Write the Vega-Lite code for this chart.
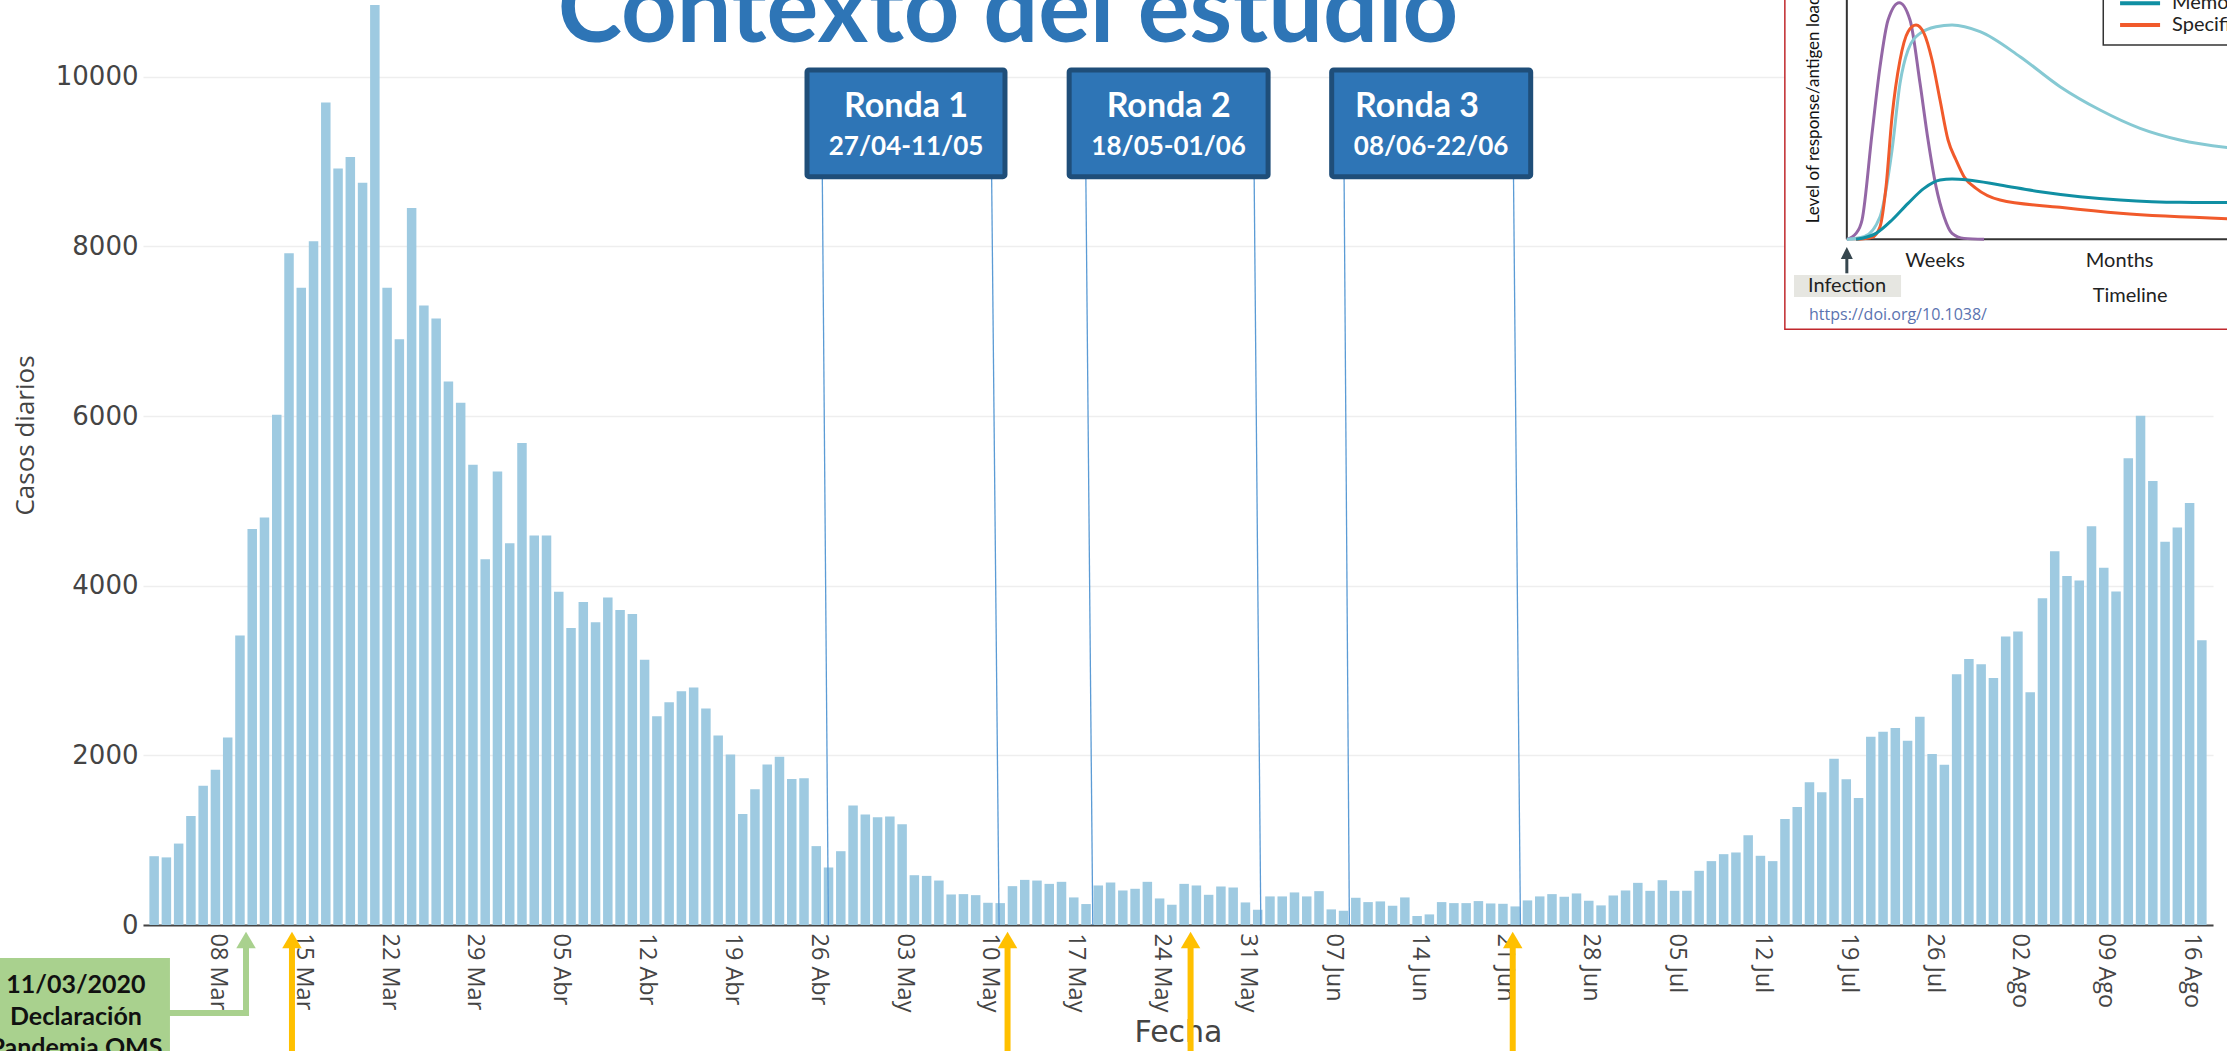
{
"$schema": "https://vega.github.io/schema/vega-lite/v6.json",
"width": 2070, "height": 925, "autosize": "none",
"padding": {"left": 143, "top": 0, "right": 14, "bottom": 126},
"background": "white",
"config": {"view": {"stroke": null}},
"datasets": {
"casos": [
{"d":"2020-03-03","c":811},{"d":"2020-03-04","c":797},{"d":"2020-03-05","c":960},{"d":"2020-03-06","c":1284},{"d":"2020-03-07","c":1642},{"d":"2020-03-08","c":1831},{"d":"2020-03-09","c":2210},{"d":"2020-03-10","c":3412},{"d":"2020-03-11","c":4669},{"d":"2020-03-12","c":4804},{"d":"2020-03-13","c":6014},{"d":"2020-03-14","c":7919},{"d":"2020-03-15","c":7513},{"d":"2020-03-16","c":8061},{"d":"2020-03-17","c":9696},{"d":"2020-03-18","c":8919},{"d":"2020-03-19","c":9054},{"d":"2020-03-20","c":8750},{"d":"2020-03-21","c":10845},{"d":"2020-03-22","c":7513},{"d":"2020-03-23","c":6906},{"d":"2020-03-24","c":8453},{"d":"2020-03-25","c":7304},{"d":"2020-03-26","c":7149},{"d":"2020-03-27","c":6406},{"d":"2020-03-28","c":6156},{"d":"2020-03-29","c":5426},{"d":"2020-03-30","c":4311},{"d":"2020-03-31","c":5345},
{"d":"2020-04-01","c":4500},{"d":"2020-04-02","c":5683},{"d":"2020-04-03","c":4591},{"d":"2020-04-04","c":4591},{"d":"2020-04-05","c":3930},{"d":"2020-04-06","c":3500},{"d":"2020-04-07","c":3809},{"d":"2020-04-08","c":3570},{"d":"2020-04-09","c":3861},{"d":"2020-04-10","c":3713},{"d":"2020-04-11","c":3665},{"d":"2020-04-12","c":3126},{"d":"2020-04-13","c":2461},{"d":"2020-04-14","c":2626},{"d":"2020-04-15","c":2757},{"d":"2020-04-16","c":2800},{"d":"2020-04-17","c":2552},{"d":"2020-04-18","c":2235},{"d":"2020-04-19","c":2009},{"d":"2020-04-20","c":1309},{"d":"2020-04-21","c":1600},{"d":"2020-04-22","c":1891},{"d":"2020-04-23","c":1983},{"d":"2020-04-24","c":1722},{"d":"2020-04-25","c":1730},{"d":"2020-04-26","c":930},{"d":"2020-04-27","c":678},{"d":"2020-04-28","c":870},{"d":"2020-04-29","c":1409},{"d":"2020-04-30","c":1304},
{"d":"2020-05-01","c":1270},{"d":"2020-05-02","c":1278},{"d":"2020-05-03","c":1187},{"d":"2020-05-04","c":587},{"d":"2020-05-05","c":579},{"d":"2020-05-06","c":524},{"d":"2020-05-07","c":360},{"d":"2020-05-08","c":364},{"d":"2020-05-09","c":352},{"d":"2020-05-10","c":262},{"d":"2020-05-11","c":258},{"d":"2020-05-12","c":458},{"d":"2020-05-13","c":532},{"d":"2020-05-14","c":524},{"d":"2020-05-15","c":485},{"d":"2020-05-16","c":509},{"d":"2020-05-17","c":325},{"d":"2020-05-18","c":247},{"d":"2020-05-19","c":466},{"d":"2020-05-20","c":501},{"d":"2020-05-21","c":407},{"d":"2020-05-22","c":427},{"d":"2020-05-23","c":509},{"d":"2020-05-24","c":313},{"d":"2020-05-25","c":239},{"d":"2020-05-26","c":485},{"d":"2020-05-27","c":466},{"d":"2020-05-28","c":356},{"d":"2020-05-29","c":454},{"d":"2020-05-30","c":442},{"d":"2020-05-31","c":266},
{"d":"2020-06-01","c":180},{"d":"2020-06-02","c":337},{"d":"2020-06-03","c":337},{"d":"2020-06-04","c":384},{"d":"2020-06-05","c":337},{"d":"2020-06-06","c":399},{"d":"2020-06-07","c":184},{"d":"2020-06-08","c":168},{"d":"2020-06-09","c":321},{"d":"2020-06-10","c":270},{"d":"2020-06-11","c":278},{"d":"2020-06-12","c":227},{"d":"2020-06-13","c":325},{"d":"2020-06-14","c":106},{"d":"2020-06-15","c":125},{"d":"2020-06-16","c":270},{"d":"2020-06-17","c":258},{"d":"2020-06-18","c":258},{"d":"2020-06-19","c":282},{"d":"2020-06-20","c":254},{"d":"2020-06-21","c":250},{"d":"2020-06-22","c":219},{"d":"2020-06-23","c":290},{"d":"2020-06-24","c":337},{"d":"2020-06-25","c":364},{"d":"2020-06-26","c":333},{"d":"2020-06-27","c":372},{"d":"2020-06-28","c":286},{"d":"2020-06-29","c":231},{"d":"2020-06-30","c":348},
{"d":"2020-07-01","c":407},{"d":"2020-07-02","c":497},{"d":"2020-07-03","c":403},{"d":"2020-07-04","c":528},{"d":"2020-07-05","c":403},{"d":"2020-07-06","c":404},{"d":"2020-07-07","c":639},{"d":"2020-07-08","c":753},{"d":"2020-07-09","c":835},{"d":"2020-07-10","c":855},{"d":"2020-07-11","c":1059},{"d":"2020-07-12","c":816},{"d":"2020-07-13","c":753},{"d":"2020-07-14","c":1251},{"d":"2020-07-15","c":1392},{"d":"2020-07-16","c":1683},{"d":"2020-07-17","c":1565},{"d":"2020-07-18","c":1961},{"d":"2020-07-19","c":1718},{"d":"2020-07-20","c":1498},{"d":"2020-07-21","c":2220},{"d":"2020-07-22","c":2279},{"d":"2020-07-23","c":2322},{"d":"2020-07-24","c":2173},{"d":"2020-07-25","c":2455},{"d":"2020-07-26","c":2016},{"d":"2020-07-27","c":1890},{"d":"2020-07-28","c":2955},{"d":"2020-07-29","c":3135},{"d":"2020-07-30","c":3074},{"d":"2020-07-31","c":2913},
{"d":"2020-08-01","c":3400},{"d":"2020-08-02","c":3461},{"d":"2020-08-03","c":2744},{"d":"2020-08-04","c":3852},{"d":"2020-08-05","c":4405},{"d":"2020-08-06","c":4113},{"d":"2020-08-07","c":4061},{"d":"2020-08-08","c":4700},{"d":"2020-08-09","c":4213},{"d":"2020-08-10","c":3931},{"d":"2020-08-11","c":5504},{"d":"2020-08-12","c":6004},{"d":"2020-08-13","c":5235},{"d":"2020-08-14","c":4518},{"d":"2020-08-15","c":4687},{"d":"2020-08-16","c":4974},{"d":"2020-08-17","c":3357}
],
"rondas": [
{"x0":"2020-04-25T09:22:00Z","x1":"2020-05-11T11:00:00Z","xc":"2020-05-03T10:20:00Z","xt":"2020-05-03T10:20:00Z","titulo":"Ronda 1","fechas":"27/04-11/05"},
{"x0":"2020-05-16T16:00:00Z","x1":"2020-06-01T19:30:00Z","xc":"2020-05-24T17:45:00Z","xt":"2020-05-24T17:45:00Z","titulo":"Ronda 2","fechas":"18/05-01/06"},
{"x0":"2020-06-06T23:20:00Z","x1":"2020-06-23T03:00:00Z","xc":"2020-06-15T01:00:00Z","xt":"2020-06-13T21:40:00Z","titulo":"Ronda 3","fechas":"08/06-22/06"}
],
"lineas": [
{"xa":"2020-04-26T15:10:00Z","xb":"2020-04-27T03:00:00Z"},
{"xa":"2020-05-10T09:00:00Z","xb":"2020-05-10T23:30:00Z"},
{"xa":"2020-05-18T00:30:00Z","xb":"2020-05-18T14:00:00Z"},
{"xa":"2020-05-31T16:20:00Z","xb":"2020-06-01T05:20:00Z"},
{"xa":"2020-06-07T23:30:00Z","xb":"2020-06-08T09:50:00Z"},
{"xa":"2020-06-21T17:30:00Z","xb":"2020-06-22T07:00:00Z"}
],
"flechas": [{"x":"2020-03-14T14:10:00Z"},{"x":"2020-05-11T16:00:00Z"},{"x":"2020-05-26T12:30:00Z"},{"x":"2020-06-21T16:00:00Z"}],
"oms": [{"x0":"2020-02-10T00:00:00Z","x1":"2020-03-04T16:30:00Z","xc":"2020-02-26T01:20:00Z","xf":"2020-03-10T20:40:00Z","texto":"11/03/2020\nDeclaración\nPandemia OMS"}],
"titulo": [{"x":"2020-05-11T17:00:00Z","texto":"Contexto del estudio"}],
"uno": [{}],
"curvas": [
{"s":"Antigen","t":0,"v":0},{"s":"Antigen","t":0.242,"v":2.49},{"s":"Antigen","t":0.40,"v":8.07},{"s":"Antigen","t":0.663,"v":44.28},{"s":"Antigen","t":0.873,"v":72.15},{"s":"Antigen","t":1.084,"v":91.64},{"s":"Antigen","t":1.378,"v":98.89},{"s":"Antigen","t":1.662,"v":91.64},{"s":"Antigen","t":1.925,"v":65.18},{"s":"Antigen","t":2.136,"v":41.5},{"s":"Antigen","t":2.346,"v":22.0},{"s":"Antigen","t":2.557,"v":9.46},{"s":"Antigen","t":2.767,"v":2.49},{"s":"Antigen","t":3.083,"v":0.4},{"s":"Antigen","t":3.609,"v":0},
{"s":"Effector","t":0,"v":0},{"s":"Effector","t":0.452,"v":1.1},{"s":"Effector","t":0.873,"v":9.46},{"s":"Effector","t":1.189,"v":37.32},{"s":"Effector","t":1.399,"v":65.18},{"s":"Effector","t":1.61,"v":79.11},{"s":"Effector","t":1.925,"v":86.07},{"s":"Effector","t":2.346,"v":88.86},{"s":"Effector","t":2.767,"v":89.56},{"s":"Effector","t":3.504,"v":86.77},{"s":"Effector","t":4.556,"v":76.32},{"s":"Effector","t":5.608,"v":63.78},{"s":"Effector","t":6.66,"v":54.03},{"s":"Effector","t":7.712,"v":46.37},{"s":"Effector","t":8.759,"v":41.5},{"s":"Effector","t":10.3,"v":37.8},
{"s":"Specific","t":0.242,"v":0},{"s":"Specific","t":0.663,"v":0.82},{"s":"Specific","t":0.873,"v":5.28},{"s":"Specific","t":1.031,"v":22.0},{"s":"Specific","t":1.189,"v":51.25},{"s":"Specific","t":1.399,"v":74.93},{"s":"Specific","t":1.61,"v":86.77},{"s":"Specific","t":1.82,"v":89.56},{"s":"Specific","t":2.03,"v":86.07},{"s":"Specific","t":2.241,"v":74.93},{"s":"Specific","t":2.451,"v":58.21},{"s":"Specific","t":2.662,"v":41.5},{"s":"Specific","t":2.872,"v":33.14},{"s":"Specific","t":3.083,"v":26.17},{"s":"Specific","t":3.398,"v":21.3},{"s":"Specific","t":4.03,"v":16.42},{"s":"Specific","t":5.608,"v":13.36},{"s":"Specific","t":7.186,"v":10.85},{"s":"Specific","t":10.3,"v":8.5},
{"s":"Memory","t":0.242,"v":0},{"s":"Memory","t":0.768,"v":2.49},{"s":"Memory","t":1.189,"v":8.07},{"s":"Memory","t":1.61,"v":15.03},{"s":"Memory","t":2.03,"v":21.3},{"s":"Memory","t":2.451,"v":24.78},{"s":"Memory","t":2.767,"v":25.2},{"s":"Memory","t":3.188,"v":24.78},{"s":"Memory","t":4.03,"v":22.69},{"s":"Memory","t":5.082,"v":19.9},{"s":"Memory","t":6.134,"v":17.82},{"s":"Memory","t":7.186,"v":16.42},{"s":"Memory","t":8.759,"v":15.45},{"s":"Memory","t":10.3,"v":15.4}
],
"leyenda": [
{"s":"Memory","t0":7.186,"t1":8.238,"tt":8.553,"v":98.61,"texto":"Memory cells"},
{"s":"Specific","t0":7.186,"t1":8.238,"tt":8.553,"v":89.56,"texto":"Specific antibodies"}
],
"etiquetas": [
{"texto":"Weeks","t":2.32,"v":-9.07},
{"texto":"Months","t":7.175,"v":-9.07},
{"texto":"Timeline","t":7.45,"v":-23.7},
{"texto":"Infection","t":0.005,"v":-19.4}
]
},
"layer": [
{"data":{"name":"casos"},"mark":{"type":"bar","color":"#9ecae1","size":9.5},
 "encoding":{
  "x":{"field":"d","type":"temporal","scale":{"type":"utc","domain":[1583150400000,1597665600000],"nice":false},
   "axis":{"title":"Fecha","tickCount":{"interval":"week","step":1},
    "labelExpr":"utcFormat(datum.value, '%d') + ' ' + ['Ene','Feb','Mar','Abr','May','Jun','Jul','Ago','Sep','Oct','Nov','Dic'][utcmonth(datum.value)]",
    "labelAngle":90,"labelFont":"Open Sans","labelFontSize":23.5,"labelColor":"#444","labelPadding":8,"labelOffset":2,"labelOverlap":false,"labelFlush":false,
    "ticks":false,"grid":false,"domainColor":"#444","domainWidth":2,
    "titleFont":"DejaVu Sans","titleFontSize":30,"titleFontWeight":"normal","titleColor":"#444","titlePadding":6}},
  "y":{"field":"c","type":"quantitative","scale":{"domain":[0,10905],"nice":false,"zero":false},
   "axis":{"title":"Casos diarios","values":[0,2000,4000,6000,8000,10000],"format":"d",
    "labelFont":"DejaVu Sans","labelFontSize":26,"labelColor":"#444","labelPadding":5,
    "ticks":false,"domain":false,"grid":true,"gridColor":"#eeeeee","gridWidth":1.5,
    "titleFont":"Open Sans","titleFontSize":26,"titleFontWeight":"normal","titleColor":"#444",
    "titleX":-118,"titleY":435,"titleAngle":270,"titleAlign":"center","titleBaseline":"middle"}}
 }},
{"data":{"name":"lineas"},"mark":{"type":"rule","color":"#5B9BD5","strokeWidth":1.3},
 "encoding":{
  "x":{"field":"xa","type":"temporal","scale":{"type":"utc","domain":[1583150400000,1597665600000],"nice":false},"axis":null},
  "x2":{"field":"xb"},
  "y":{"datum":8822,"type":"quantitative","scale":{"domain":[0,10905],"nice":false,"zero":false},"axis":null},
  "y2":{"datum":0}
 }},
{"data":{"name":"rondas"},"mark":{"type":"rect","color":"#2E75B6","stroke":"#1F4E79","strokeWidth":5,"cornerRadius":2},
 "encoding":{
  "x":{"field":"x0","type":"temporal","scale":{"type":"utc","domain":[1583150400000,1597665600000],"nice":false},"axis":null},
  "x2":{"field":"x1"},
  "y":{"datum":10080,"type":"quantitative","scale":{"domain":[0,10905],"nice":false,"zero":false},"axis":null},
  "y2":{"datum":8822}
 }},
{"data":{"name":"rondas"},"mark":{"type":"text","font":"Lato","fontWeight":"bold","fontSize":34,"color":"white","align":"center","baseline":"alphabetic"},
 "encoding":{
  "x":{"field":"xt","type":"temporal","scale":{"type":"utc","domain":[1583150400000,1597665600000],"nice":false},"axis":null},
  "y":{"datum":9522,"type":"quantitative","scale":{"domain":[0,10905],"nice":false,"zero":false},"axis":null},
  "text":{"field":"titulo"}
 }},
{"data":{"name":"rondas"},"mark":{"type":"text","font":"Lato","fontWeight":"bold","fontSize":26,"color":"white","align":"center","baseline":"alphabetic"},
 "encoding":{
  "x":{"field":"xc","type":"temporal","scale":{"type":"utc","domain":[1583150400000,1597665600000],"nice":false},"axis":null},
  "y":{"datum":9078,"type":"quantitative","scale":{"domain":[0,10905],"nice":false,"zero":false},"axis":null},
  "text":{"field":"fechas"}
 }},
{"data":{"name":"flechas"},"mark":{"type":"rule","color":"#FFC000","strokeWidth":6},
 "encoding":{
  "x":{"field":"x","type":"temporal","scale":{"type":"utc","domain":[1583150400000,1597665600000],"nice":false},"axis":null},
  "y":{"datum":-177,"type":"quantitative","scale":{"domain":[0,10905],"nice":false,"zero":false},"axis":null},
  "y2":{"datum":-1700}
 }},
{"data":{"name":"flechas"},"mark":{"type":"point","shape":"M0,-0.85L1,0.85L-1,0.85Z","filled":true,"color":"#FFC000","opacity":1,"size":380},
 "encoding":{
  "x":{"field":"x","type":"temporal","scale":{"type":"utc","domain":[1583150400000,1597665600000],"nice":false},"axis":null},
  "y":{"datum":-177,"type":"quantitative","scale":{"domain":[0,10905],"nice":false,"zero":false},"axis":null}
 }},
{"data":{"name":"oms"},"mark":{"type":"rect","color":"#A9D18E"},
 "encoding":{
  "x":{"field":"x0","type":"temporal","scale":{"type":"utc","domain":[1583150400000,1597665600000],"nice":false},"axis":null},
  "x2":{"field":"x1"},
  "y":{"datum":-389,"type":"quantitative","scale":{"domain":[0,10905],"nice":false,"zero":false},"axis":null},
  "y2":{"datum":-1700}
 }},
{"data":{"name":"oms"},"mark":{"type":"rule","color":"#A9D18E","strokeWidth":6,"strokeCap":"square"},
 "encoding":{
  "x":{"field":"x1","type":"temporal","scale":{"type":"utc","domain":[1583150400000,1597665600000],"nice":false},"axis":null},
  "x2":{"field":"xf"},
  "y":{"datum":-1037,"type":"quantitative","scale":{"domain":[0,10905],"nice":false,"zero":false},"axis":null}
 }},
{"data":{"name":"oms"},"mark":{"type":"rule","color":"#A9D18E","strokeWidth":6,"strokeCap":"square"},
 "encoding":{
  "x":{"field":"xf","type":"temporal","scale":{"type":"utc","domain":[1583150400000,1597665600000],"nice":false},"axis":null},
  "y":{"datum":-177,"type":"quantitative","scale":{"domain":[0,10905],"nice":false,"zero":false},"axis":null},
  "y2":{"datum":-1037}
 }},
{"data":{"name":"oms"},"mark":{"type":"point","shape":"M0,-0.85L1,0.85L-1,0.85Z","filled":true,"color":"#A9D18E","opacity":1,"size":380},
 "encoding":{
  "x":{"field":"xf","type":"temporal","scale":{"type":"utc","domain":[1583150400000,1597665600000],"nice":false},"axis":null},
  "y":{"datum":-177,"type":"quantitative","scale":{"domain":[0,10905],"nice":false,"zero":false},"axis":null}
 }},
{"data":{"name":"oms"},"mark":{"type":"text","font":"Lato","fontWeight":"bold","fontSize":25,"color":"#111","align":"center","baseline":"alphabetic","lineBreak":"\n","lineHeight":31.5},
 "encoding":{
  "x":{"field":"xc","type":"temporal","scale":{"type":"utc","domain":[1583150400000,1597665600000],"nice":false},"axis":null},
  "y":{"datum":-802,"type":"quantitative","scale":{"domain":[0,10905],"nice":false,"zero":false},"axis":null},
  "text":{"field":"texto"}
 }},
{"data":{"name":"titulo"},"mark":{"type":"text","font":"Lato","fontWeight":"bold","fontSize":97,"color":"#2E75B6","align":"center","baseline":"alphabetic"},
 "encoding":{
  "x":{"field":"x","type":"temporal","scale":{"type":"utc","domain":[1583150400000,1597665600000],"nice":false},"axis":null},
  "y":{"datum":10410,"type":"quantitative","scale":{"domain":[0,10905],"nice":false,"zero":false},"axis":null},
  "text":{"field":"texto"}
 }},
{"data":{"name":"uno"},"mark":{"type":"rect","fill":"white","stroke":"#C0282D","strokeWidth":1.5},
 "encoding":{
  "x":{"datum":-1.63,"type":"quantitative","scale":{"domain":[-44.81,9.63],"nice":false,"zero":false},"axis":null},
  "x2":{"datum":11},
  "y":{"datum":-37.6,"type":"quantitative","scale":{"domain":[-286.5,100],"nice":false,"zero":false},"axis":null},
  "y2":{"datum":115}
 }},
{"data":{"name":"uno"},"mark":{"type":"rule","color":"#333","strokeWidth":2},
 "encoding":{
  "x":{"datum":0,"type":"quantitative","scale":{"domain":[-44.81,9.63],"nice":false,"zero":false},"axis":null},
  "y":{"datum":0,"type":"quantitative","scale":{"domain":[-286.5,100],"nice":false,"zero":false},"axis":null},
  "y2":{"datum":115}
 }},
{"data":{"name":"uno"},"mark":{"type":"rule","color":"#333","strokeWidth":2},
 "encoding":{
  "x":{"datum":0,"type":"quantitative","scale":{"domain":[-44.81,9.63],"nice":false,"zero":false},"axis":null},
  "x2":{"datum":11},
  "y":{"datum":0,"type":"quantitative","scale":{"domain":[-286.5,100],"nice":false,"zero":false},"axis":null}
 }},
{"data":{"name":"uno"},"mark":{"type":"rect","fill":"white","stroke":"#333","strokeWidth":1.5},
 "encoding":{
  "x":{"datum":6.744,"type":"quantitative","scale":{"domain":[-44.81,9.63],"nice":false,"zero":false},"axis":null},
  "x2":{"datum":11},
  "y":{"datum":81.2,"type":"quantitative","scale":{"domain":[-286.5,100],"nice":false,"zero":false},"axis":null},
  "y2":{"datum":115}
 }},
{"data":{"name":"curvas"},"mark":{"type":"line","strokeWidth":3,"interpolate":"monotone"},
 "encoding":{
  "x":{"field":"t","type":"quantitative","scale":{"domain":[-44.81,9.63],"nice":false,"zero":false},"axis":null},
  "y":{"field":"v","type":"quantitative","scale":{"domain":[-286.5,100],"nice":false,"zero":false},"axis":null},
  "color":{"field":"s","type":"nominal","scale":{"domain":["Antigen","Effector","Specific","Memory"],"range":["#9467a6","#86c9d3","#f15a2b","#108fa3"]},"legend":null}
 }},
{"data":{"name":"leyenda"},"mark":{"type":"rule","strokeWidth":4},
 "encoding":{
  "x":{"field":"t0","type":"quantitative","scale":{"domain":[-44.81,9.63],"nice":false,"zero":false},"axis":null},
  "x2":{"field":"t1"},
  "y":{"field":"v","type":"quantitative","scale":{"domain":[-286.5,100],"nice":false,"zero":false},"axis":null},
  "color":{"field":"s","type":"nominal","scale":{"domain":["Antigen","Effector","Specific","Memory"],"range":["#9467a6","#86c9d3","#f15a2b","#108fa3"]},"legend":null}
 }},
{"data":{"name":"leyenda"},"mark":{"type":"text","font":"Lato","fontSize":20,"color":"#222","align":"left","baseline":"middle"},
 "encoding":{
  "x":{"field":"tt","type":"quantitative","scale":{"domain":[-44.81,9.63],"nice":false,"zero":false},"axis":null},
  "y":{"field":"v","type":"quantitative","scale":{"domain":[-286.5,100],"nice":false,"zero":false},"axis":null},
  "text":{"field":"texto"}
 }},
{"data":{"name":"uno"},"mark":{"type":"rect","color":"#E6E6E1"},
 "encoding":{
  "x":{"datum":-1.389,"type":"quantitative","scale":{"domain":[-44.81,9.63],"nice":false,"zero":false},"axis":null},
  "x2":{"datum":1.426},
  "y":{"datum":-14.92,"type":"quantitative","scale":{"domain":[-286.5,100],"nice":false,"zero":false},"axis":null},
  "y2":{"datum":-24.11}
 }},
{"data":{"name":"uno"},"mark":{"type":"rule","color":"#37474F","strokeWidth":3},
 "encoding":{
  "x":{"datum":0,"type":"quantitative","scale":{"domain":[-44.81,9.63],"nice":false,"zero":false},"axis":null},
  "y":{"datum":-6,"type":"quantitative","scale":{"domain":[-286.5,100],"nice":false,"zero":false},"axis":null},
  "y2":{"datum":-14.2}
 }},
{"data":{"name":"uno"},"mark":{"type":"point","shape":"M0,-1L1,1L-1,1Z","filled":true,"color":"#37474F","opacity":1,"size":144},
 "encoding":{
  "x":{"datum":0,"type":"quantitative","scale":{"domain":[-44.81,9.63],"nice":false,"zero":false},"axis":null},
  "y":{"datum":-5.7,"type":"quantitative","scale":{"domain":[-286.5,100],"nice":false,"zero":false},"axis":null}
 }},
{"data":{"name":"etiquetas"},"mark":{"type":"text","font":"Lato","fontSize":20,"color":"#222","align":"center","baseline":"middle"},
 "encoding":{
  "x":{"field":"t","type":"quantitative","scale":{"domain":[-44.81,9.63],"nice":false,"zero":false},"axis":null},
  "y":{"field":"v","type":"quantitative","scale":{"domain":[-286.5,100],"nice":false,"zero":false},"axis":null},
  "text":{"field":"texto"}
 }},
{"data":{"name":"uno"},"mark":{"type":"text","text":"Level of response/antigen load","font":"Lato","fontSize":17,"color":"#111","align":"left","baseline":"middle","angle":270},
 "encoding":{
  "x":{"datum":-0.86,"type":"quantitative","scale":{"domain":[-44.81,9.63],"nice":false,"zero":false},"axis":null},
  "y":{"datum":6.7,"type":"quantitative","scale":{"domain":[-286.5,100],"nice":false,"zero":false},"axis":null}
 }},
{"data":{"name":"uno"},"mark":{"type":"text","text":"https://doi.org/10.1038/","font":"Open Sans","fontSize":16,"color":"#5B73B0","align":"left","baseline":"middle"},
 "encoding":{
  "x":{"datum":-0.994,"type":"quantitative","scale":{"domain":[-44.81,9.63],"nice":false,"zero":false},"axis":null},
  "y":{"datum":-31.6,"type":"quantitative","scale":{"domain":[-286.5,100],"nice":false,"zero":false},"axis":null}
 }}
],
"resolve": {"scale": {"x": "independent", "y": "independent", "color": "independent"}}
}
